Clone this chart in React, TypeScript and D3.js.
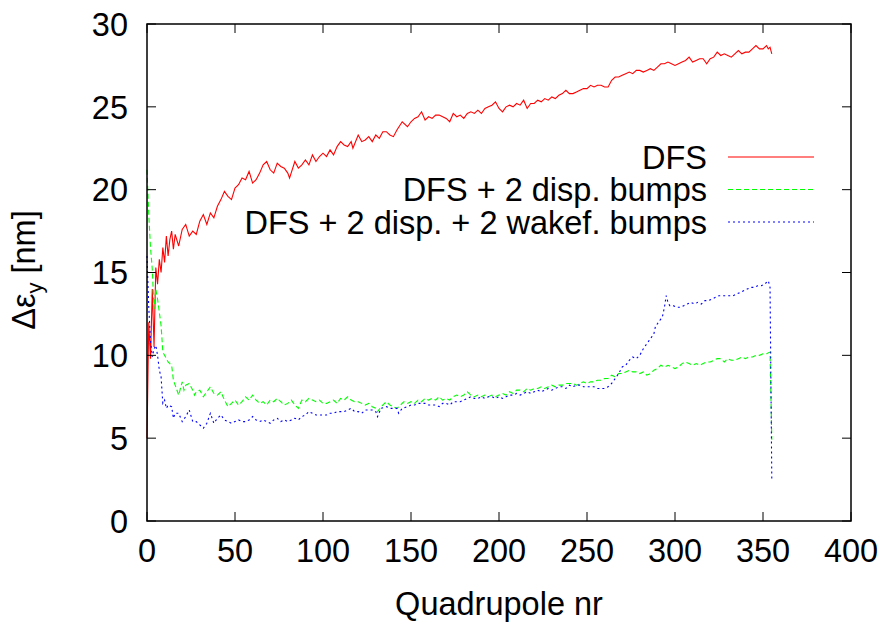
import React from "react";
import * as d3 from "d3";

const xTicks = [0, 50, 100, 150, 200, 250, 300, 350, 400];
const yTicks = [0, 5, 10, 15, 20, 25, 30];
const seriesNames = ["DFS", "DFS + 2 disp. bumps", "DFS + 2 disp. + 2 wakef. bumps"];

const dfs: [number, number][] = [
  [0,5.0],[1,12.0],[2,9.8],[3,14.0],[4,10.5],[5,15.3],[6,14.3],[7,15.8],[8,15.0],[9,16.5],[10,15.6],[11,17.2],[12,16.0],[13,17.0],[14,17.5],[15,16.4],[16,17.3],[18,16.6],[20,17.6],[22,17.9],[24,17.2],[26,17.5],[28,17.3],[30,18.1],[32,18.5],[34,17.9],[36,18.6],[38,18.3],[40,19.0],[42,19.4],[44,19.9],[46,19.6],[48,19.4],[50,20.1],[52,20.3],[54,20.7],[56,20.6],[58,21.1],[60,20.4],[62,20.6],[64,21.0],[66,21.5],[68,21.7],[70,21.2],[72,21.0],[74,21.6],[76,21.4],[78,21.3],[80,21.0],[81,20.7],[84,21.7],[86,21.3],[88,21.5],[90,21.8],[92,21.5],[94,22.1],[96,21.7],[98,22.0],[100,22.2],[102,22.0],[104,22.4],[106,22.1],[108,22.6],[110,22.9],[112,22.7],[114,22.6],[116,22.9],[117,22.5],[120,23.3],[122,22.9],[124,23.0],[126,23.2],[128,22.9],[130,23.3],[132,23.1],[134,23.5],[136,23.5],[138,23.3],[140,23.2],[142,23.6],[145,24.1],[148,23.8],[150,24.1],[152,24.3],[154,24.4],[156,24.7],[158,24.2],[160,24.4],[162,24.3],[164,24.5],[166,24.5],[168,24.4],[170,24.3],[172,24.1],[174,24.6],[176,24.4],[178,24.5],[180,24.3],[182,24.6],[184,24.7],[186,24.6],[188,24.8],[190,24.6],[192,24.9],[194,25.0],[196,25.1],[198,25.3],[200,24.9],[202,24.7],[204,25.0],[206,25.1],[208,25.0],[210,25.2],[212,25.1],[214,25.4],[216,24.9],[218,25.2],[220,25.2],[222,25.4],[224,25.3],[226,25.5],[228,25.4],[230,25.6],[232,25.5],[234,25.7],[236,25.8],[238,26.0],[240,25.8],[242,25.8],[244,25.9],[246,26.0],[248,26.1],[250,26.1],[252,26.3],[254,26.2],[256,26.3],[258,26.3],[260,26.2],[262,26.2],[264,26.6],[266,26.8],[268,26.8],[270,26.9],[272,27.0],[274,27.1],[276,27.0],[278,27.2],[280,27.2],[282,27.1],[284,27.2],[286,27.3],[288,27.2],[290,27.4],[292,27.6],[294,27.6],[296,27.7],[298,27.6],[300,27.5],[302,27.6],[304,27.7],[306,27.8],[308,28.0],[310,27.7],[312,27.8],[314,27.9],[316,27.9],[318,27.6],[320,27.9],[322,28.0],[324,28.3],[326,28.1],[328,28.2],[330,28.1],[332,28.0],[334,28.2],[336,28.4],[338,28.2],[340,28.3],[342,28.3],[344,28.5],[346,28.7],[348,28.5],[350,28.5],[352,28.7],[353,28.5],[354,28.6],[355,28.2]
];

const dispBumps: [number, number][] = [
  [0,21.2],[1,18.5],[2,16.5],[3,15.2],[4,12.8],[5,14.0],[6,13.4],[7,12.6],[8,11.8],[9,10.2],[10,10.0],[12,9.6],[14,9.4],[15,8.5],[16,8.2],[18,7.6],[20,8.4],[21,7.9],[22,8.2],[24,8.3],[26,7.9],[27,7.6],[28,7.8],[30,7.9],[32,7.5],[34,7.8],[36,8.1],[38,7.7],[40,7.6],[42,7.8],[44,7.3],[46,6.9],[48,7.1],[50,7.3],[52,7.0],[54,7.2],[56,7.5],[58,7.3],[60,7.6],[62,7.3],[64,7.1],[66,7.2],[68,7.0],[70,7.3],[72,7.2],[74,7.4],[76,7.2],[78,7.0],[80,7.1],[82,7.3],[84,7.0],[86,6.8],[88,7.3],[90,7.2],[92,7.4],[94,7.3],[96,7.2],[98,7.3],[100,7.1],[102,7.1],[104,7.2],[106,7.3],[108,7.1],[110,7.4],[112,7.3],[114,7.5],[116,7.3],[118,7.2],[120,7.2],[122,7.1],[124,7.0],[126,7.1],[128,6.9],[130,6.8],[131,6.6],[133,6.9],[136,7.2],[138,7.0],[140,6.9],[142,6.8],[144,7.0],[146,7.2],[148,7.1],[150,7.2],[152,7.1],[154,7.3],[156,7.2],[158,7.4],[160,7.3],[162,7.4],[164,7.3],[166,7.5],[168,7.3],[170,7.4],[172,7.3],[174,7.5],[176,7.6],[178,7.5],[180,7.6],[182,7.8],[184,7.6],[186,7.5],[188,7.6],[190,7.5],[192,7.6],[194,7.5],[196,7.6],[198,7.5],[200,7.6],[202,7.7],[204,7.6],[206,7.8],[208,7.7],[210,7.9],[212,7.9],[214,7.8],[216,8.0],[218,7.9],[220,8.0],[222,8.0],[224,8.1],[226,8.0],[228,8.1],[230,8.2],[232,8.1],[234,8.2],[236,8.2],[238,8.3],[240,8.3],[242,8.3],[244,8.2],[246,8.3],[248,8.4],[250,8.3],[252,8.4],[254,8.4],[256,8.5],[258,8.5],[260,8.6],[262,8.6],[264,8.8],[266,8.7],[268,8.9],[270,8.9],[272,9.0],[274,9.1],[276,9.0],[278,9.0],[280,8.9],[282,9.0],[284,8.8],[286,8.9],[288,9.1],[290,9.2],[292,9.4],[294,9.3],[296,9.4],[298,9.3],[300,9.2],[302,9.3],[304,9.5],[306,9.6],[308,9.5],[310,9.4],[312,9.5],[314,9.4],[316,9.5],[318,9.6],[320,9.6],[322,9.7],[324,9.8],[326,9.8],[328,9.6],[330,9.8],[332,9.7],[334,9.7],[336,9.8],[338,9.9],[340,9.8],[342,9.9],[344,9.9],[346,10.0],[348,10.0],[350,10.1],[352,10.1],[354,10.2],[355,4.9]
];

const wakeBumps: [number, number][] = [
  [0,16.0],[1,12.9],[2,10.9],[3,9.9],[4,10.4],[5,10.6],[6,10.0],[7,9.1],[8,8.7],[9,7.1],[10,7.3],[11,6.8],[12,7.0],[14,6.9],[15,6.2],[16,6.5],[18,6.5],[20,6.0],[22,6.3],[24,6.7],[26,6.0],[28,6.0],[30,5.8],[32,5.6],[34,5.9],[36,6.5],[38,5.9],[40,6.2],[42,6.4],[44,6.1],[46,6.0],[48,5.9],[50,6.0],[52,6.1],[54,6.0],[56,6.0],[58,6.1],[60,6.3],[62,6.1],[64,6.0],[66,6.1],[68,6.0],[70,5.9],[72,6.1],[74,6.2],[76,6.0],[78,6.1],[80,6.0],[82,6.1],[84,6.2],[86,6.1],[88,6.3],[90,6.4],[92,6.6],[94,6.5],[96,6.4],[98,6.4],[100,6.4],[102,6.4],[104,6.5],[106,6.5],[108,6.6],[110,6.6],[112,6.6],[114,6.7],[116,6.8],[118,6.6],[120,6.6],[122,6.5],[124,6.7],[126,6.7],[128,6.7],[130,6.6],[131,6.3],[133,6.8],[136,6.9],[138,6.8],[140,6.8],[142,6.8],[143,6.5],[145,6.8],[148,6.9],[150,7.0],[152,7.0],[154,7.1],[156,7.1],[158,7.1],[160,7.0],[162,7.0],[164,7.0],[166,6.9],[168,7.1],[170,7.1],[172,7.0],[174,7.2],[176,7.2],[178,7.2],[180,7.3],[182,7.4],[184,7.5],[186,7.4],[188,7.4],[190,7.5],[192,7.4],[194,7.5],[196,7.5],[198,7.4],[200,7.5],[202,7.4],[204,7.5],[206,7.6],[208,7.6],[210,7.7],[212,7.6],[214,7.7],[216,7.8],[218,7.7],[220,7.8],[222,7.9],[224,7.8],[226,7.9],[228,8.0],[230,7.9],[232,8.0],[234,8.1],[236,8.1],[238,8.0],[240,8.2],[242,8.1],[244,8.2],[246,8.2],[248,8.1],[250,8.1],[252,8.1],[254,8.1],[256,8.0],[258,8.0],[260,8.0],[262,8.1],[264,8.3],[266,8.6],[268,8.9],[270,9.3],[272,9.4],[274,9.7],[276,9.9],[278,9.8],[280,10.0],[282,10.4],[284,10.7],[286,11.0],[288,11.3],[289,11.8],[290,11.9],[292,12.2],[293,12.4],[294,12.9],[295,13.6],[296,13.2],[297,13.0],[299,13.0],[301,12.9],[303,12.9],[305,13.0],[307,13.1],[309,13.2],[311,13.1],[313,13.2],[315,13.1],[317,13.3],[319,13.3],[321,13.4],[323,13.5],[325,13.6],[327,13.6],[329,13.6],[331,13.6],[333,13.6],[335,13.7],[337,13.8],[339,13.9],[341,14.0],[343,14.1],[345,14.1],[347,14.2],[349,14.2],[351,14.3],[352,14.4],[353,14.5],[354,14.1],[355,2.5]
];

const colors = ["#ff0000", "#00ff00", "#0000ff"];
const dashes = ["none", "5,3", "2,3"];

export default function App() {
  const W = 888, H = 623;
  const left = 147, right = 851, top = 24, bottom = 521;
  const x = d3.scaleLinear().domain([0, 400]).range([left, right]);
  const y = d3.scaleLinear().domain([0, 30]).range([bottom, top]);
  const line = d3.line<[number, number]>().x(d => x(d[0])).y(d => y(d[1]));
  const all = [dfs, dispBumps, wakeBumps];
  const font = "'Liberation Sans', Arial, sans-serif";
  const fs = 32.5;
  const tl = 9;
  return (
    <svg width={W} height={H} style={{ position: "absolute", left: 0, top: 0, background: "#fff" }} fontFamily={font}>
      <rect x={0} y={0} width={W} height={H} fill="#fff" />
      {all.map((s, i) => (
        <path key={i} d={line(s) || ""} fill="none" stroke={colors[i]} strokeWidth={1.1} strokeDasharray={dashes[i]} />
      ))}
      {xTicks.map(t => (
        <g key={"x" + t}>
          <line x1={x(t)} x2={x(t)} y1={bottom} y2={bottom - tl} stroke="#000" strokeWidth={1} />
          <line x1={x(t)} x2={x(t)} y1={top} y2={top + tl} stroke="#000" strokeWidth={1} />
          <text x={x(t)} y={bottom + 41} fontSize={fs} textAnchor="middle">{t}</text>
        </g>
      ))}
      {yTicks.map(t => (
        <g key={"y" + t}>
          <line x1={left} x2={left + tl} y1={y(t)} y2={y(t)} stroke="#000" strokeWidth={1} />
          <line x1={right} x2={right - tl} y1={y(t)} y2={y(t)} stroke="#000" strokeWidth={1} />
          <text x={left - 19} y={y(t)} dy="0.36em" fontSize={fs} textAnchor="end">{t}</text>
        </g>
      ))}
      <rect x={left} y={top} width={right - left} height={bottom - top} fill="none" stroke="#000" strokeWidth={1.5} />
      {seriesNames.map((n, i) => {
        const ly = 157 + i * 32.5;
        return (
          <g key={n}>
            <text x={707} y={ly} dy="0.36em" fontSize={fs} textAnchor="end">{n}</text>
            <line x1={728} x2={814} y1={ly} y2={ly} stroke={colors[i]} strokeWidth={1.2} strokeDasharray={dashes[i]} />
          </g>
        );
      })}
      <text x={499} y={615} fontSize={fs} textAnchor="middle">Quadrupole nr</text>
      <text transform="translate(35,270) rotate(-90)" fontSize={fs} textAnchor="middle">
        Δε<tspan fontSize={22} dy={7}>y</tspan><tspan dy={-7}> [nm]</tspan>
      </text>
    </svg>
  );
}
